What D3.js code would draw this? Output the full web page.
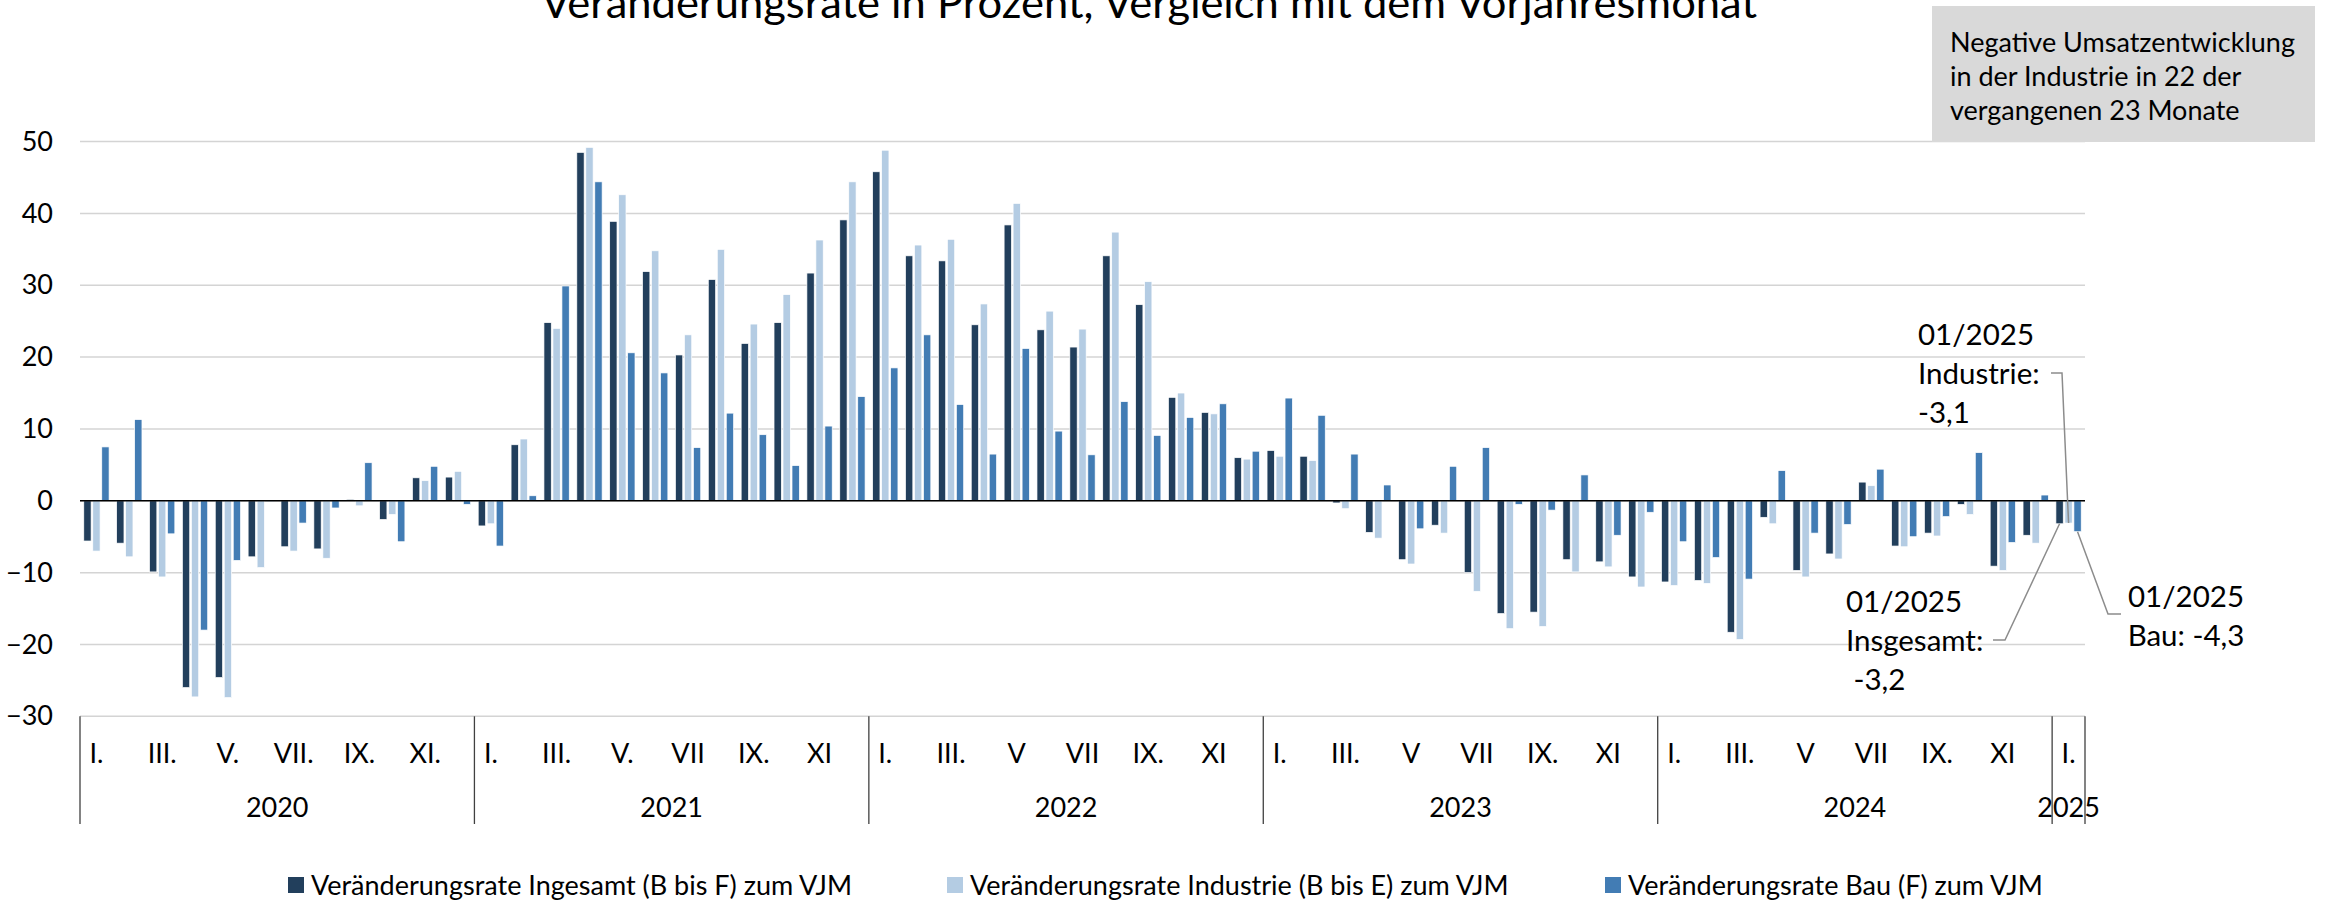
<!DOCTYPE html>
<html>
<head>
<meta charset="utf-8">
<script src="https://cdnjs.cloudflare.com/ajax/libs/d3/7.8.5/d3.min.js"></script>
<style>
  body { margin: 0; background: #fff; }
  text { font-family: Lato, "Open Sans", sans-serif; fill: #000; }
</style>
</head>
<body>
<div id="chart-area"></div>
<script>
const width = 2325;
const height = 900;

// data
const years = ["2020", "2021", "2022", "2023", "2024", "2025"];
const monthLabels = [
    "I.", "", "III.", "", "V.", "", "VII.", "", "IX.", "", "XI.", "",
    "I.", "", "III.", "", "V.", "", "VII", "", "IX.", "", "XI", "",
    "I.", "", "III.", "", "V", "", "VII", "", "IX.", "", "XI", "",
    "I.", "", "III.", "", "V", "", "VII", "", "IX.", "", "XI", "",
    "I.", "", "III.", "", "V", "", "VII", "", "IX.", "", "XI", "",
    "I."
];
const seriesNames = [
    "Veränderungsrate Ingesamt (B bis F) zum VJM",
    "Veränderungsrate Industrie (B bis E) zum VJM",
    "Veränderungsrate Bau (F) zum VJM"
];
const insgesamt = [
    -5.6, -5.9, -9.9, -26.0, -24.6, -7.8, -6.4, -6.7, 0.2, -2.6, 3.2, 3.3,
    -3.5, 7.8, 24.8, 48.5, 38.9, 31.9, 20.3, 30.8, 21.9, 24.8, 31.7, 39.1,
    45.8, 34.1, 33.4, 24.5, 38.4, 23.8, 21.4, 34.1, 27.3, 14.4, 12.3, 6.0,
    7.0, 6.2, -0.3, -4.4, -8.2, -3.4, -10.0, -15.7, -15.5, -8.2, -8.5, -10.6,
    -11.3, -11.1, -18.3, -2.3, -9.7, -7.4, 2.6, -6.3, -4.5, -0.5, -9.1, -4.8,
    -3.2
];
const industrie = [
    -7.0, -7.8, -10.6, -27.3, -27.4, -9.3, -7.0, -8.0, -0.7, -1.9, 2.8, 4.1,
    -3.2, 8.6, 24.0, 49.2, 42.6, 34.8, 23.1, 35.0, 24.6, 28.7, 36.3, 44.4,
    48.8, 35.6, 36.4, 27.4, 41.4, 26.4, 23.9, 37.4, 30.5, 15.0, 12.1, 5.8,
    6.2, 5.6, -1.1, -5.2, -8.8, -4.5, -12.6, -17.8, -17.5, -9.9, -9.2, -12.0,
    -11.8, -11.5, -19.3, -3.2, -10.6, -8.1, 2.1, -6.4, -4.9, -1.9, -9.7, -5.9,
    -3.1
];
const bau = [
    7.5, 11.3, -4.6, -18.0, -8.3, -0.1, -3.1, -1.0, 5.3, -5.7, 4.8, -0.5,
    -6.3, 0.7, 29.9, 44.4, 20.6, 17.8, 7.4, 12.2, 9.2, 4.9, 10.4, 14.5,
    18.5, 23.1, 13.4, 6.5, 21.2, 9.7, 6.4, 13.8, 9.1, 11.6, 13.5, 6.9,
    14.3, 11.9, 6.5, 2.2, -3.9, 4.8, 7.4, -0.5, -1.3, 3.6, -4.8, -1.6,
    -5.7, -7.9, -10.9, 4.2, -4.5, -3.3, 4.4, -5.0, -2.2, 6.7, -5.8, 0.8,
    -4.3
];
const yTicks = [-30, -20, -10, 0, 10, 20, 30, 40, 50];
const colors = ["#223f5c", "#b4cce3", "#427cb4"];

const title = "Veränderungsrate in Prozent, Vergleich mit dem Vorjahresmonat";
const boxLines = ["Negative Umsatzentwicklung", "in der Industrie in 22 der", "vergangenen 23 Monate"];

// shrink/stretch text to the width it has in the reference
function fitTo(sel, w) {
    sel.each(function() {
        const t = this.getComputedTextLength();
        if (Math.abs(t - w) / w > 0.015) {
            d3.select(this).attr("textLength", w).attr("lengthAdjust", "spacingAndGlyphs");
        }
    });
}

const svg = d3.select("#chart-area")
    .append("svg")
    .attr("width", width)
    .attr("height", height);

const months = monthLabels.map((d, i) => i);
const plotLeft = 80, plotRight = 2085;

const x0 = d3.scaleBand()
    .domain(months)
    .range([plotLeft, plotRight]);

const x1 = d3.scaleBand()
    .domain([0, 1, 2])
    .range([0, x0.bandwidth()])
    .paddingInner(0.185)
    .paddingOuter(0.42);

const y = d3.scaleLinear()
    .domain([-30, 50])
    .range([716.3, 141.6]);

//Gridlines
svg.append("g")
    .selectAll("line")
    .data(yTicks)
    .enter().append("line")
    .attr("x1", plotLeft)
    .attr("x2", plotRight)
    .attr("y1", d => y(d))
    .attr("y2", d => y(d))
    .attr("stroke", "#d4d4d4")
    .attr("stroke-width", 1.5);

//Y axis labels
const yAxis = d3.axisLeft(y)
    .tickValues(yTicks)
    .tickSize(0)
    .tickPadding(27);
const yAxisGroup = svg.append("g")
    .attr("transform", `translate(${plotLeft},0)`)
    .call(yAxis);
yAxisGroup.select(".domain").remove();
yAxisGroup.selectAll("text")
    .style("font-family", "Lato, 'Open Sans', sans-serif")
    .attr("font-size", 27)
    .attr("fill", "#000");

//Bars
const rows = months.map(i => ({ i: i, vals: [insgesamt[i], industrie[i], bau[i]] }));

const groups = svg.append("g")
    .selectAll("g")
    .data(rows)
    .enter().append("g")
    .attr("transform", d => `translate(${x0(d.i)},0)`);

groups.selectAll("rect")
    .data(d => d.vals.map((v, k) => ({ k: k, v: v })))
    .enter().append("rect")
    .attr("x", d => x1(d.k))
    .attr("width", x1.bandwidth())
    .attr("y", d => y(Math.max(0, d.v)))
    .attr("height", d => Math.abs(y(d.v) - y(0)))
    .attr("fill", d => colors[d.k])
    .attr("stroke", "#ffffff")
    .attr("stroke-width", 0.7);

//Zero line
svg.append("line")
    .attr("x1", plotLeft)
    .attr("x2", plotRight)
    .attr("y1", y(0))
    .attr("y2", y(0))
    .attr("stroke", "#000")
    .attr("stroke-width", 1.5);

//Category axis: year separators, month and year labels
const sepX = years.map((yr, j) => x0(j * 12)).concat([plotRight]);
svg.append("g")
    .selectAll("line")
    .data(sepX)
    .enter().append("line")
    .attr("x1", d => d)
    .attr("x2", d => d)
    .attr("y1", y(-30))
    .attr("y2", 824)
    .attr("stroke", "#404040")
    .attr("stroke-width", 1.3);

svg.append("g")
    .selectAll("text")
    .data(months.filter(i => monthLabels[i] !== ""))
    .enter().append("text")
    .attr("x", i => x0(i) + x0.bandwidth() / 2)
    .attr("y", 754)
    .attr("dy", "0.35em")
    .attr("text-anchor", "middle")
    .attr("font-size", 27)
    .text(i => monthLabels[i]);

svg.append("g")
    .selectAll("text")
    .data(years)
    .enter().append("text")
    .attr("x", (yr, j) => {
        const first = j * 12;
        const last = Math.min(first + 11, months.length - 1);
        return (x0(first) + x0(last) + x0.bandwidth()) / 2;
    })
    .attr("y", 808)
    .attr("dy", "0.35em")
    .attr("text-anchor", "middle")
    .attr("font-size", 27)
    .text(d => d);

//Title (cut at the top edge like in the reference)
svg.append("text")
    .attr("x", 541)
    .attr("y", 18)
    .attr("font-size", 42)
    .text(title)
    .call(fitTo, 1216);

//Legend
const legendWidths = [544, 543, 418];
const legend = svg.append("g");
let lx = 288;
seriesNames.forEach((name, k) => {
    legend.append("rect")
        .attr("x", lx)
        .attr("y", 877)
        .attr("width", 16)
        .attr("height", 16)
        .attr("fill", colors[k]);
    legend.append("text")
        .attr("x", lx + 23)
        .attr("y", 886)
        .attr("dy", "0.35em")
        .attr("font-size", 27)
        .text(name)
        .call(fitTo, legendWidths[k]);
    lx += 23 + legendWidths[k] + 92;
});

//Note box top right
svg.append("rect")
    .attr("x", 1932)
    .attr("y", 6)
    .attr("width", 383)
    .attr("height", 136)
    .attr("fill", "#d9d9d9");

svg.append("g")
    .selectAll("text")
    .data(boxLines)
    .enter().append("text")
    .attr("x", 1950)
    .attr("y", (d, i) => 52 + i * 34)
    .attr("font-size", 27)
    .text(d => d);

//Callouts for 01/2025
const lastMonth = months.length - 1;
const barEnd = k => [x0(lastMonth) + x1(k) + x1.bandwidth() / 2, y(rows[lastMonth].vals[k])];

const callouts = [
    { k: 1, lines: ["01/2025", "Industrie:", "-3,1"], x: 1918, ys: [335, 374, 413], anchor: "start",
      path: [[2051, 373], [2062, 373]] },
    { k: 0, lines: ["01/2025", "Insgesamt:", " -3,2"], x: 1846, ys: [602, 641, 680], anchor: "start",
      path: [[1993, 640], [2005, 640]] },
    { k: 2, lines: ["01/2025", "Bau: -4,3"], x: 2186, ys: [597, 636], anchor: "middle",
      path: [[2121, 614], [2108, 614]] }
];

const line = d3.line();
callouts.forEach(c => {
    svg.append("path")
        .attr("d", line(c.path.concat([barEnd(c.k)])))
        .attr("fill", "none")
        .attr("stroke", "#8c8c8c")
        .attr("stroke-width", 1.5);
    c.lines.forEach((t, j) => {
        svg.append("text")
            .attr("x", c.x)
            .attr("y", c.ys[j])
            .attr("dy", "0.35em")
            .attr("text-anchor", c.anchor)
            .attr("font-size", 29.5)
            .style("white-space", "pre")
            .text(t);
    });
});
</script>
</body>
</html>
